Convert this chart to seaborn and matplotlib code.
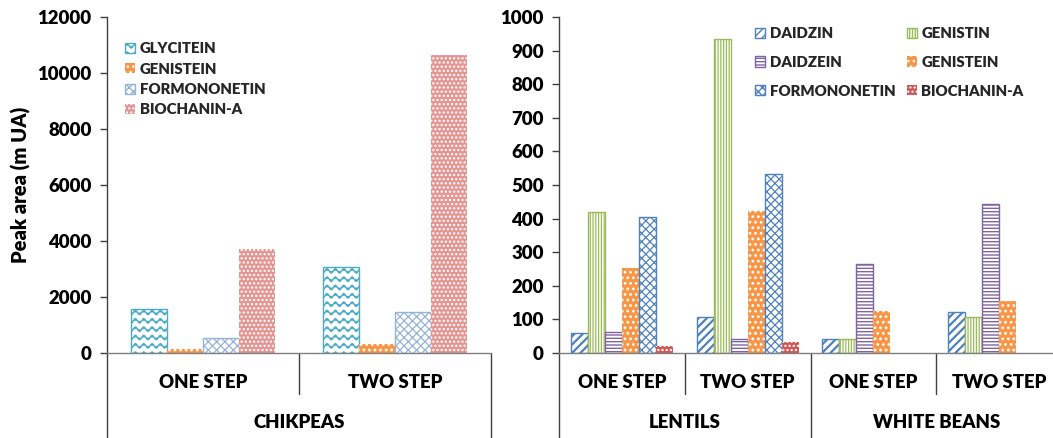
import warnings
import numpy as np
import pandas as pd
import matplotlib
matplotlib.use("Agg")
import matplotlib.pyplot as plt
import matplotlib.hatch as mhatch
import matplotlib.transforms as mtrans
from matplotlib.path import Path
from matplotlib.font_manager import FontProperties
import seaborn as sns

warnings.filterwarnings("ignore")

# ---------------- data ----------------
steps = ["ONE STEP", "TWO STEP"]

chik_compounds = ["GLYCITEIN", "GENISTEIN", "FORMONONETIN", "BIOCHANIN-A"]
chik_glycitein = [1580, 3080]
chik_genistein = [130, 320]
chik_formononetin = [525, 1475]
chik_biochanin = [3700, 10640]

legume_groups = ["LENTILS", "WHITE BEANS"]
leg_compounds = ["DAIDZIN", "GENISTIN", "DAIDZEIN", "GENISTEIN", "FORMONONETIN", "BIOCHANIN-A"]
lentils_one = [60, 419, 63, 252, 404, 22]
lentils_two = [108, 934, 43, 424, 533, 33]
white_one = [42, 42, 265, 124, 0, 0]
white_two = [122, 108, 443, 156, 0, 0]

chik_yticks = [0, 2000, 4000, 6000, 8000, 10000, 12000]
leg_yticks = list(range(0, 1001, 100))


# ---------------- custom wave hatch ----------------
class WaveHatch(mhatch.HatchPatternBase):
    def __init__(self, hatch, density):
        self.num_lines = int(hatch.count("~") * density)
        self.periods = self.num_lines
        self.npts = self.periods * 8 + 1 if self.num_lines else 0
        self.num_vertices = self.num_lines * self.npts

    def set_vertices_and_codes(self, vertices, codes):
        xs = np.linspace(0.0, 1.0, self.npts)
        step = 1.0 / self.num_lines
        amp = 0.27 * step
        for i in range(self.num_lines):
            y0 = (i + 0.5) * step
            sl = slice(i * self.npts, (i + 1) * self.npts)
            vertices[sl, 0] = xs
            vertices[sl, 1] = y0 + amp * np.sin(2 * np.pi * self.periods * xs)
            codes[sl] = Path.LINETO
            codes[i * self.npts] = Path.MOVETO


mhatch._hatch_types.append(WaveHatch)

# ---------------- style ----------------
sns.set_theme(style="white")
FAM = ["Lato", "DejaVu Sans"]
WGT = "heavy"
plt.rcParams["font.family"] = FAM
plt.rcParams["font.weight"] = WGT
plt.rcParams["hatch.linewidth"] = 1.0

W, H = 1053, 438
fig = plt.figure(figsize=(W / 100, H / 100), dpi=100)

def px_axes(x0, x1, ytop, ybot):
    return fig.add_axes([x0 / W, 1 - ybot / H, (x1 - x0) / W, (ybot - ytop) / H])

ax1 = px_axes(107, 491, 17, 353)
ax2 = px_axes(559, 1062, 17, 353)

# ---------------- data frames ----------------
chik_rows = []
for comp, vals in zip(chik_compounds, [chik_glycitein, chik_genistein, chik_formononetin, chik_biochanin]):
    for s, v in zip(steps, vals):
        chik_rows.append({"x": "CHIKPEAS|" + s, "compound": comp, "value": v})
chik_df = pd.DataFrame(chik_rows)
chik_order = ["CHIKPEAS|" + s for s in steps]

leg_rows = []
for g, series in zip(legume_groups, [[lentils_one, lentils_two], [white_one, white_two]]):
    for s, vals in zip(steps, series):
        for comp, v in zip(leg_compounds, vals):
            leg_rows.append({"x": g + "|" + s, "compound": comp, "value": v})
leg_df = pd.DataFrame(leg_rows)
leg_order = [g + "|" + s for g in legume_groups for s in steps]

sns.barplot(data=chik_df, x="x", y="value", hue="compound", order=chik_order,
            hue_order=chik_compounds, width=0.75, errorbar=None, legend=False, ax=ax1)
sns.barplot(data=leg_df, x="x", y="value", hue="compound", order=leg_order,
            hue_order=leg_compounds, width=0.81, errorbar=None, legend=False, ax=ax2)

# style: (face, edge/hatch colour, hatch, edge lw, hatch lw)
chik_styles = {
    "GLYCITEIN": ("white", "#4BACC6", "~~", 1.0, 1.0),
    "GENISTEIN": ("#F79646", "white", "...", 0.0, 1.2),
    "FORMONONETIN": ("white", "#95B3D7", "xxxx", 1.0, 0.9),
    "BIOCHANIN-A": ("#E39594", "white", "....", 0.0, 1.1),
}
leg_styles = {
    "DAIDZIN": ("white", "#4F81BD", "////", 1.0, 1.6),
    "GENISTIN": ("white", "#9BBB59", "||||||", 1.0, 0.9),
    "DAIDZEIN": ("white", "#8064A2", "-----", 1.0, 1.0),
    "GENISTEIN": ("#F79646", "white", "...", 0.0, 1.2),
    "FORMONONETIN": ("white", "#4F81BD", "xxxx", 1.0, 0.9),
    "BIOCHANIN-A": ("#CC5855", "white", "....", 0.0, 1.1),
}

def style_bars(ax, comps, styles):
    for cont, comp in zip(ax.containers, comps):
        fc, ec, ht, elw, hlw = styles[comp]
        for p in cont.patches:
            p.set_facecolor(fc)
            p.set_edgecolor(ec)
            p.set_linewidth(elw)
            p.set_hatch(ht)
            if hasattr(p, "set_hatch_linewidth"):
                p.set_hatch_linewidth(hlw)
            if p.get_height() == 0:
                p.set_visible(False)

style_bars(ax1, chik_compounds, chik_styles)
style_bars(ax2, leg_compounds, leg_styles)

# ---------------- axes ----------------
axis_col = "#404040"
base_col = "#7F7F7F"
for ax, yt, order in [(ax1, chik_yticks, chik_order), (ax2, leg_yticks, leg_order)]:
    ax.set_ylim(yt[0], yt[-1])
    ax.set_yticks(yt)
    ax.set_xlim(-0.5, len(order) - 0.5)
    ax.set_xticks([])
    ax.set_xlabel("")
    ax.set_ylabel("")
    for sp in ["top", "right"]:
        ax.spines[sp].set_visible(False)
    ax.spines["left"].set_color(axis_col)
    ax.spines["left"].set_linewidth(1.0)
    ax.spines["bottom"].set_color(base_col)
    ax.spines["bottom"].set_linewidth(1.0)
    ax.tick_params(axis="y", left=True, length=5, width=1.0, color=axis_col,
                   pad=6, labelsize=13.4, labelcolor="black")
    for lab in ax.get_yticklabels():
        lab.set_fontweight(WGT)
    ax.set_facecolor("none")

ax1.set_ylabel("Peak area (m UA)", fontsize=14.5, fontweight=WGT, labelpad=5, color="black")

# hierarchical category axis below
def cat_axis(ax, groups, n_steps):
    tr = mtrans.blended_transform_factory(ax.transData, ax.transAxes)
    y_step = (353 - 382) / 336
    y_group = (353 - 422) / 336
    y_inner = (353 - 394) / 336
    y_outer = (353 - 440) / 336
    for k in range(len(groups) + 1):
        xo = -0.5 + k * n_steps
        ax.plot([xo, xo], [0, y_outer], transform=tr, color=axis_col, lw=1.0, clip_on=False)
    for gi, g in enumerate(groups):
        for si in range(n_steps):
            i = gi * n_steps + si
            ax.text(i, y_step, steps[si], transform=tr, ha="center", va="center",
                    fontsize=13.4, fontweight=WGT, color="black")
            if si > 0:
                xi = i - 0.5
                ax.plot([xi, xi], [0, y_inner], transform=tr, color=axis_col, lw=1.0, clip_on=False)
        ax.text(gi * n_steps + (n_steps - 1) / 2, y_group, g, transform=tr, ha="center",
                va="center", fontsize=13.4, fontweight=WGT, color="black")

cat_axis(ax1, ["CHIKPEAS"], 2)
cat_axis(ax2, legume_groups, 2)

# ---------------- legends ----------------
lfont = FontProperties(family=FAM, weight=WGT, size=10.8)
h1 = [c.patches[0] for c in ax1.containers]
ax1.legend(h1, chik_compounds, loc="upper left", bbox_to_anchor=(125 / W, 1 - 42 / H),
           bbox_transform=fig.transFigure, frameon=False, borderpad=0, borderaxespad=0,
           handlelength=0.68, handleheight=0.68, handletextpad=0.3, labelspacing=0.5, prop=lfont)

h2 = [c.patches[0] for c in ax2.containers]
idx = [0, 2, 4, 1, 3, 5]
ax2.legend([h2[i] for i in idx], [leg_compounds[i] for i in idx], loc="upper left", ncol=2,
           bbox_to_anchor=(755 / W, 1 - 27 / H), bbox_transform=fig.transFigure,
           frameon=False, borderpad=0, borderaxespad=0, handlelength=0.68, handleheight=0.68,
           handletextpad=0.3, labelspacing=1.05, columnspacing=0.75, prop=lfont)

fig.savefig("out.png", dpi=100, facecolor="white")
